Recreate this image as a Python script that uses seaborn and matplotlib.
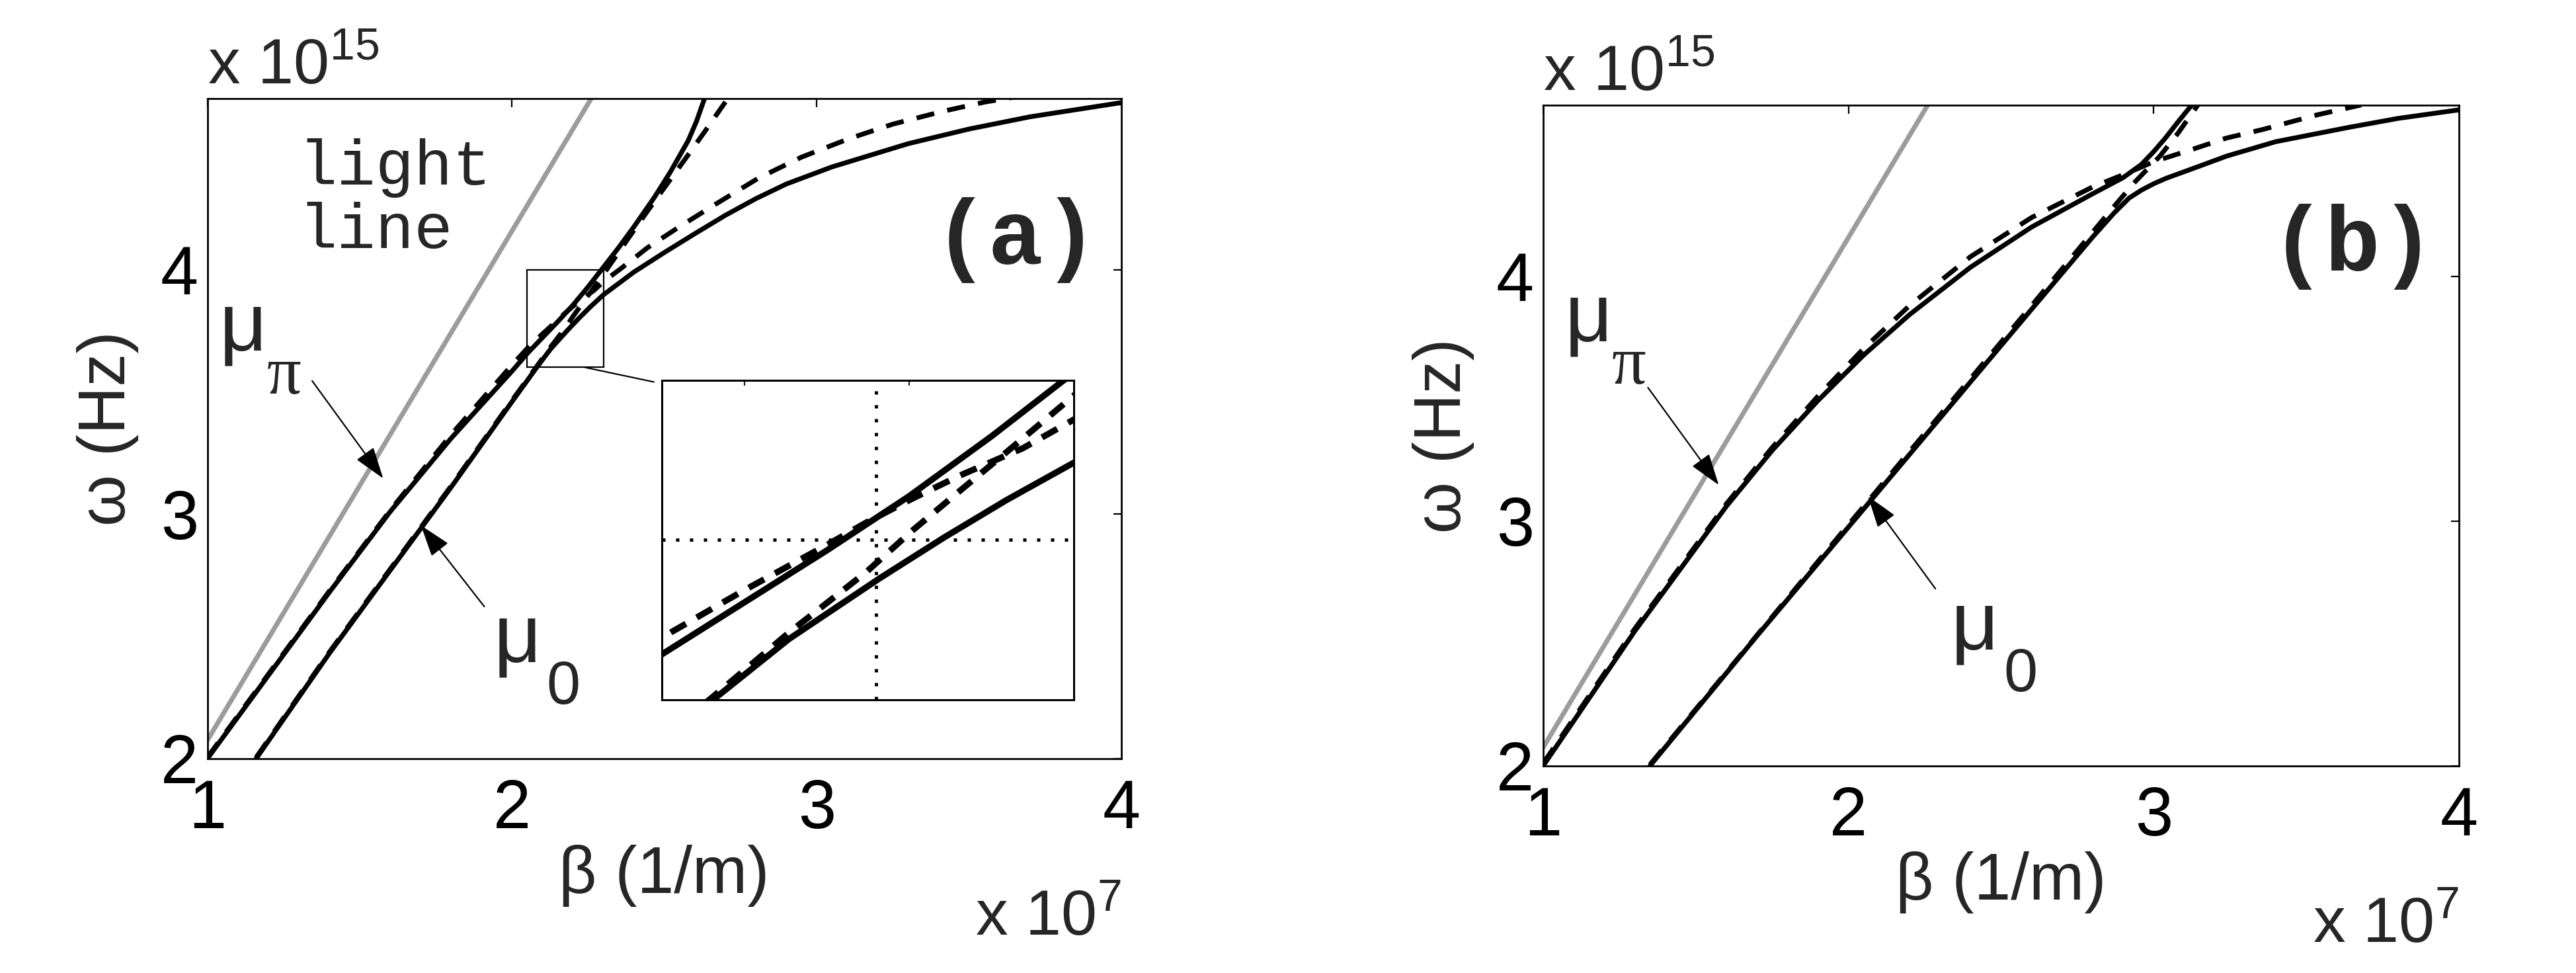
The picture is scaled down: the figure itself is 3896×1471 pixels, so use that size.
import matplotlib
matplotlib.use("Agg")
import matplotlib.pyplot as plt
import seaborn as sns
from matplotlib.patches import Rectangle, ConnectionPatch

# beta in units of 1e7 1/m, omega in units of 1e15 Hz
light_beta = [1.0, 2.26]
light_omega = [2.075, 4.70]

# ---- panel (a) ----
a_pi_beta = [1.0, 1.2, 1.4, 1.6, 1.8, 2.0, 2.05, 2.1, 2.15, 2.2, 2.25, 2.3,
             2.35, 2.4, 2.468, 2.52, 2.578, 2.605, 2.632]
a_pi_omega = [2.0, 2.34, 2.68, 3.01, 3.31, 3.585, 3.657, 3.722, 3.787, 3.855, 3.93, 4.01,
              4.09, 4.175, 4.297, 4.40, 4.527, 4.605, 4.70]

a_zero_beta = [1.16, 1.4, 1.6, 1.8, 2.0, 2.081, 2.127, 2.182, 2.221, 2.259, 2.30, 2.4, 2.5,
               2.6, 2.7, 2.8, 2.9, 3.05, 3.3, 3.5, 3.7, 4.0]
a_zero_omega = [2.0, 2.43, 2.77, 3.11, 3.46, 3.600, 3.676, 3.752, 3.803, 3.850, 3.897, 3.99, 4.07,
                4.147, 4.222, 4.29, 4.35, 4.42, 4.515, 4.575, 4.625, 4.683]

a_dash1_beta = [1.0, 1.2, 1.4, 1.6, 1.8, 2.0, 2.05, 2.098, 2.151, 2.174, 2.202, 2.231, 2.269, 2.30,
                2.357, 2.445, 2.544, 2.666, 2.81, 2.95, 3.107, 3.25, 3.416, 3.55, 3.684]
a_dash1_omega = [2.005, 2.345, 2.685, 3.015, 3.325, 3.61, 3.678, 3.735, 3.795, 3.822, 3.852, 3.881,
                 3.915, 3.951, 4.004, 4.09, 4.171, 4.266, 4.375, 4.46, 4.536, 4.595, 4.648, 4.685, 4.713]

a_dash2_beta = [1.16, 1.4, 1.6, 1.8, 2.0, 2.081, 2.127, 2.174, 2.202, 2.231, 2.259, 2.30, 2.38,
                2.445, 2.5, 2.567, 2.63, 2.714]
a_dash2_omega = [2.005, 2.435, 2.775, 3.115, 3.465, 3.604, 3.684, 3.76, 3.812, 3.862, 3.91, 3.981,
                 4.125, 4.24, 4.335, 4.45, 4.56, 4.71]

# ---- panel (b) ----
b_pi_beta = [1.0, 1.3, 1.6, 1.75, 1.9, 2.05, 2.2, 2.4, 2.6, 2.8, 2.9, 2.96, 3.0, 3.04, 3.08, 3.125]
b_pi_omega = [2.0, 2.55, 3.06, 3.288, 3.492, 3.678, 3.843, 4.037, 4.201, 4.337, 4.403, 4.457,
              4.509, 4.567, 4.631, 4.70]

b_zero_beta = [1.35, 1.7, 2.0, 2.3, 2.6, 2.8, 2.87, 2.92, 2.96, 3.0, 3.04, 3.15, 3.239, 3.4,
               3.637, 3.8, 4.0]
b_zero_omega = [2.0, 2.53, 2.975, 3.42, 3.865, 4.16, 4.258, 4.32, 4.352, 4.378, 4.40, 4.45, 4.491,
                4.55, 4.608, 4.645, 4.68]

b_dash1_beta = [1.0, 1.3, 1.6, 1.75, 1.9, 2.05, 2.2, 2.4, 2.6, 2.8, 2.92, 3.0, 3.13,
                3.239, 3.358, 3.438, 3.537, 3.68]
b_dash1_omega = [2.01, 2.56, 3.07, 3.30, 3.51, 3.705, 3.88, 4.08, 4.24, 4.365, 4.425, 4.468,
                 4.52, 4.565, 4.60, 4.627, 4.66, 4.70]

b_dash2_beta = [1.35, 2.0, 2.6, 2.87, 2.94, 3.02, 3.08, 3.145]
b_dash2_omega = [2.005, 2.985, 3.88, 4.285, 4.387, 4.49, 4.585, 4.70]

x_ticks = [1, 2, 3, 4]
y_ticks = [2, 3, 4]
x_lim = (1, 4)
y_lim = (2, 4.7)

# zoom window of the inset in panel (a)
zoom_x = (2.05, 2.30)
zoom_y = (3.60, 4.00)
zoom_xticks = [2.1, 2.2]
cross_x, cross_y = 2.18, 3.80

sns.set_style("white")
plt.rcParams['font.family'] = ['Liberation Sans', 'DejaVu Sans']
plt.rcParams['mathtext.fontset'] = 'custom'
plt.rcParams['mathtext.rm'] = 'Liberation Sans'
plt.rcParams['mathtext.it'] = 'Liberation Sans:italic'

fig = plt.figure(figsize=(19.48, 7.355), dpi=200)
fig.patch.set_facecolor('white')

ax_a = fig.add_axes([0.0805, 0.2203, 0.3548, 0.6785])
ax_b = fig.add_axes([0.5991, 0.2131, 0.3554, 0.6790])
ax_in = fig.add_axes([0.2570, 0.2808, 0.1599, 0.3283])

GRAY = '#9c9c9c'
LW = 2.6


def curve(ax, b, w, dashed=False, lw=LW, dash=(3.8, 2.8), color='k', z=3):
    ls = (0, dash) if dashed else '-'
    sns.lineplot(x=b, y=w, ax=ax, color=color, lw=lw, linestyle=ls,
                 sort=False, estimator=None, zorder=z)


def style_axes(ax):
    ax.set_xlim(*x_lim)
    ax.set_ylim(*y_lim)
    ax.set_xticks(x_ticks)
    ax.set_yticks(y_ticks)
    ax.set_xticklabels([str(t) for t in x_ticks])
    ax.set_yticklabels([str(t) for t in y_ticks])
    ax.tick_params(direction='in', top=True, right=True, length=4.5, width=0.8,
                   labelsize=37, colors='k')
    ax.tick_params(axis='x', pad=11)
    ax.tick_params(axis='y', pad=5)
    for s in ax.spines.values():
        s.set_linewidth(1.0)
        s.set_color('k')
    ax.set_xlabel('β (1/m)', fontsize=36)
    ax.set_ylabel('ω (Hz)', fontsize=36)
    ax.xaxis.set_label_coords(0.5, -0.13)
    ax.yaxis.set_label_coords(-0.075, 0.5)
    ax.text(0.0, 1.022, r'x 10$^{15}$', transform=ax.transAxes, fontsize=35,
            ha='left', va='baseline')
    ax.text(1.0, -0.268, r'x 10$^{7}$', transform=ax.transAxes, fontsize=35,
            ha='right', va='baseline')


def arrow(ax, tail, tip):
    ax.annotate('', xy=tip, xytext=tail,
                arrowprops=dict(arrowstyle='-|>,head_length=1.5,head_width=0.5',
                                mutation_scale=10, lw=0.8, color='k',
                                shrinkA=0, shrinkB=0), zorder=6)


# ---- panel (a) ----
curve(ax_a, light_beta, light_omega, color=GRAY, z=2)
curve(ax_a, a_pi_beta, a_pi_omega)
curve(ax_a, a_zero_beta, a_zero_omega)
curve(ax_a, a_dash1_beta, a_dash1_omega, dashed=True)
curve(ax_a, a_dash2_beta, a_dash2_omega, dashed=True)
style_axes(ax_a)

ax_a.add_patch(Rectangle((zoom_x[0], zoom_y[0]), zoom_x[1] - zoom_x[0], zoom_y[1] - zoom_y[0],
                         fill=False, ec='k', lw=0.8, zorder=5))
con = ConnectionPatch(xyA=(2.24, zoom_y[0]), coordsA=ax_a.transData,
                      xyB=(-0.02, 0.995), coordsB=ax_in.transAxes, color='k', lw=0.8)
fig.add_artist(con)

ax_a.text(1.30, 4.347, 'light', family='Liberation Mono', fontsize=35, va='baseline')
ax_a.text(1.30, 4.088, 'line', family='Liberation Mono', fontsize=35, va='baseline')
ax_a.text(3.655, 4.12, '(a)', family='Liberation Mono', weight='bold', fontsize=50,
          ha='center', va='center')
ax_a.text(1.04, 3.67, 'μ', fontsize=45, va='baseline')
ax_a.text(1.195, 3.494, 'π', family='Liberation Serif', fontsize=37, va='baseline')
ax_a.text(1.94, 2.395, 'μ', fontsize=45, va='baseline')
ax_a.text(2.112, 2.225, '0', fontsize=33, va='baseline')
arrow(ax_a, (1.344, 3.545), (1.577, 3.146))
arrow(ax_a, (1.909, 2.622), (1.701, 2.954))

# ---- inset ----
curve(ax_in, a_pi_beta, a_pi_omega, lw=3.4)
curve(ax_in, a_zero_beta, a_zero_omega, lw=3.4)
curve(ax_in, a_dash1_beta, a_dash1_omega, dashed=True, lw=3.4, dash=(2.8, 2.0))
curve(ax_in, a_dash2_beta, a_dash2_omega, dashed=True, lw=3.4, dash=(2.8, 2.0))
ax_in.axvline(cross_x, color='k', lw=1.8, ls=(0, (1.0, 3.2)), zorder=1)
ax_in.axhline(cross_y, color='k', lw=1.8, ls=(0, (1.0, 3.2)), zorder=1)
ax_in.set_xlim(*zoom_x)
ax_in.set_ylim(*zoom_y)
ax_in.set_xticks(zoom_xticks)
ax_in.set_yticks([])
ax_in.set_xticklabels([])
ax_in.tick_params(direction='in', top=True, length=3, width=0.8)
ax_in.set_xlabel('')
ax_in.set_ylabel('')
for s in ax_in.spines.values():
    s.set_linewidth(1.1)
    s.set_color('k')

# ---- panel (b) ----
curve(ax_b, light_beta, light_omega, color=GRAY, z=2)
curve(ax_b, b_pi_beta, b_pi_omega)
curve(ax_b, b_zero_beta, b_zero_omega)
curve(ax_b, b_dash1_beta, b_dash1_omega, dashed=True)
curve(ax_b, b_dash2_beta, b_dash2_omega, dashed=True)
style_axes(ax_b)

ax_b.text(3.654, 4.12, '(b)', family='Liberation Mono', weight='bold', fontsize=50,
          ha='center', va='center')
ax_b.text(1.07, 3.736, 'μ', fontsize=45, va='baseline')
ax_b.text(1.225, 3.561, 'π', family='Liberation Serif', fontsize=37, va='baseline')
ax_b.text(2.336, 2.477, 'μ', fontsize=45, va='baseline')
ax_b.text(2.508, 2.305, '0', fontsize=33, va='baseline')
arrow(ax_b, (1.343, 3.545), (1.575, 3.147))
arrow(ax_b, (2.285, 2.723), (2.064, 3.101))

fig.savefig('out.png', dpi=200, facecolor='white')
